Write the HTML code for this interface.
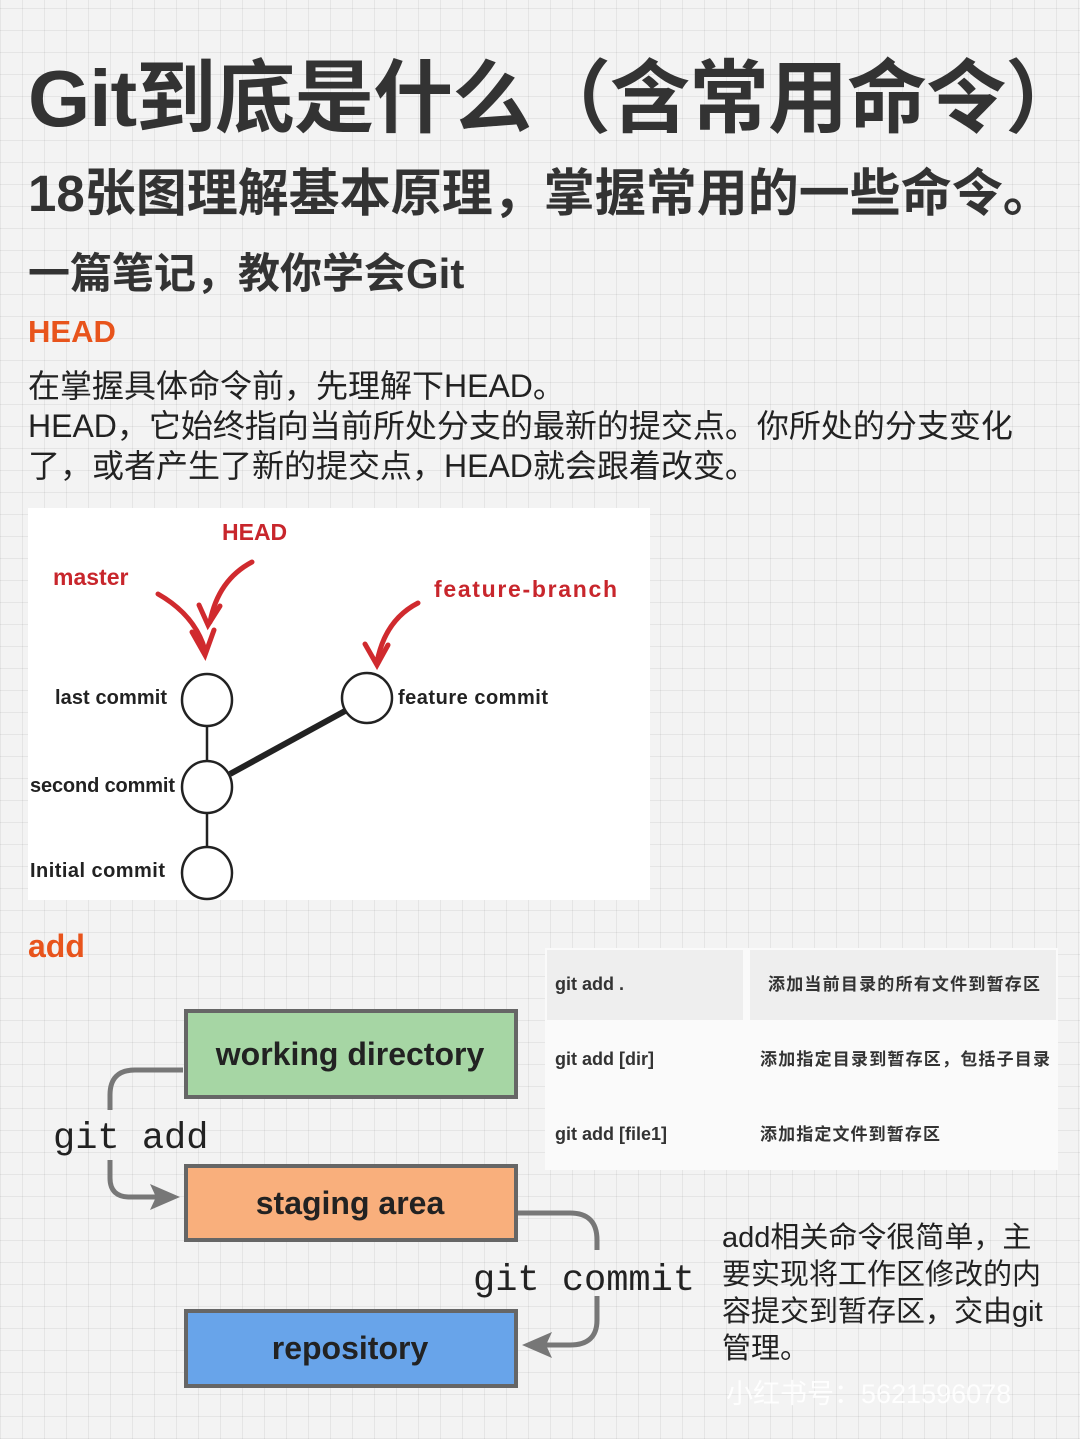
<!DOCTYPE html>
<html><head><meta charset="utf-8"><style>
body{margin:0;}
.page{position:relative;width:1080px;height:1439px;overflow:hidden;background-color:#f3f3f3;
background-image:repeating-linear-gradient(0deg,rgba(0,0,0,0.06) 0 1px,transparent 1px 22px),repeating-linear-gradient(90deg,rgba(0,0,0,0.06) 0 1px,transparent 1px 22px);
font-family:"Liberation Sans","Noto Sans CJK SC",sans-serif;color:#222;}
.a{position:absolute;white-space:nowrap;}
</style></head><body><div class="page">
<div class="a" style="left:28px;top:34px;font-size:80px;font-weight:bold;color:#333;letter-spacing:-1px">Git到底是什么（含常用命令）</div>
<div class="a" style="left:28px;top:152px;font-size:51px;font-weight:bold;color:#333">18张图理解基本原理，掌握常用的一些命令。</div>
<div class="a" style="left:28px;top:240px;font-size:42px;font-weight:bold;color:#333">一篇笔记，教你学会Git</div>
<div class="a" style="left:28px;top:314px;font-size:31px;font-weight:bold;color:#e8541c">HEAD</div>
<div class="a" style="left:28px;top:366px;font-size:32px;line-height:40px;color:#222">在掌握具体命令前，先理解下HEAD。<br>HEAD，它始终指向当前所处分支的最新的提交点。你所处的分支变化<br>了，或者产生了新的提交点，HEAD就会跟着改变。</div>

<svg class="a" style="left:0;top:0" width="1080" height="1439">
<rect x="28" y="508" width="622" height="392" fill="#fff"/>
<g font-family="Liberation Sans,sans-serif" font-weight="bold">
<text x="222" y="540" font-size="23" fill="#c8262c">HEAD</text>
<text x="53" y="585" font-size="23" fill="#c8262c">master</text>
<text x="434" y="597" font-size="23" fill="#c8262c" textLength="183">feature-branch</text>
<g font-size="20" fill="#222">
<text x="55" y="704" textLength="112">last commit</text>
<text x="30" y="792" textLength="145">second commit</text>
<text x="30" y="877" textLength="135">Initial commit</text>
<text x="398" y="704" textLength="150">feature commit</text></g></g>
<g fill="none" stroke="#d02a2e" stroke-width="5" stroke-linecap="round">
<path d="M158 594 Q195 615 205 650"/><path d="M192 632 L205 655 L214 630"/>
<path d="M252 562 Q218 580 210 622"/><path d="M199 605 L208 625 L220 606"/>
<path d="M418 603 Q385 620 377 662"/><path d="M365 644 L377 665 L388 645"/>
</g>
<g stroke="#222" fill="#fff" stroke-width="2.5">
<line x1="207" y1="725" x2="207" y2="762"/><line x1="207" y1="812" x2="207" y2="848"/>
<line x1="230" y1="774" x2="345" y2="711" stroke-width="6"/>
<ellipse cx="207" cy="700" rx="25" ry="26"/><ellipse cx="207" cy="787" rx="25" ry="26"/><ellipse cx="207" cy="873" rx="25" ry="26"/><ellipse cx="367" cy="698" rx="25" ry="25"/>
</g>
<text x="28" y="957" font-size="32" font-weight="bold" fill="#e8541c" font-family="Liberation Sans,sans-serif">add</text>
<rect x="545" y="948" width="513" height="222" fill="#fafafa"/>
<rect x="547" y="950" width="196" height="70" fill="#eeeeee"/><rect x="750" y="950" width="306" height="70" fill="#eeeeee"/>
<g font-size="18" font-weight="bold" fill="#333" font-family="Liberation Sans,Noto Sans CJK SC,sans-serif">
<text x="555" y="990">git add .</text><text x="768" y="990" font-size="17" textLength="272">添加当前目录的所有文件到暂存区</text>
<text x="555" y="1065">git add [dir]</text><text x="760" y="1065" font-size="17" textLength="290">添加指定目录到暂存区，包括子目录</text>
<text x="555" y="1140">git add [file1]</text><text x="760" y="1140" font-size="17" textLength="180">添加指定文件到暂存区</text></g>
<g stroke="#666" stroke-width="4">
<rect x="186" y="1011" width="330" height="86" fill="#a6d6a4"/>
<rect x="186" y="1166" width="330" height="74" fill="#f9af7c"/>
<rect x="186" y="1311" width="330" height="75" fill="#68a4ea"/></g>
<g font-size="32" font-weight="bold" fill="#222" text-anchor="middle" font-family="Liberation Sans,sans-serif">
<text x="350" y="1065">working directory</text><text x="350" y="1214">staging area</text><text x="350" y="1359">repository</text></g>
<g fill="none" stroke="#777" stroke-width="5">
<path d="M183 1070 L135 1070 Q110 1070 110 1095 L110 1110"/><path d="M110 1160 L110 1178 Q110 1197 130 1197 L160 1197"/>
<path d="M518 1213 L570 1213 Q597 1213 597 1240 L597 1250"/><path d="M597 1296 L597 1320 Q597 1345 570 1345 L545 1345"/></g>
<path d="M180 1197 L150 1184 L156 1197 L150 1210Z" fill="#777"/>
<path d="M522 1345 L552 1332 L546 1345 L552 1358Z" fill="#777"/>
<g font-family="Liberation Mono,monospace" font-size="37" fill="#222">
<text x="53" y="1148">git add</text><text x="473" y="1290">git commit</text></g>
</svg>
<div class="a" style="left:722px;top:1220px;font-size:29px;line-height:37px;color:#222">add相关命令很简单，主<br>要实现将工作区修改的内<br>容提交到暂存区，交由git<br>管理。</div>
<div class="a" style="left:726px;top:1372px;font-size:27px;color:rgba(255,255,255,0.85)">小红书号：5621596078</div>
</div></body></html>
